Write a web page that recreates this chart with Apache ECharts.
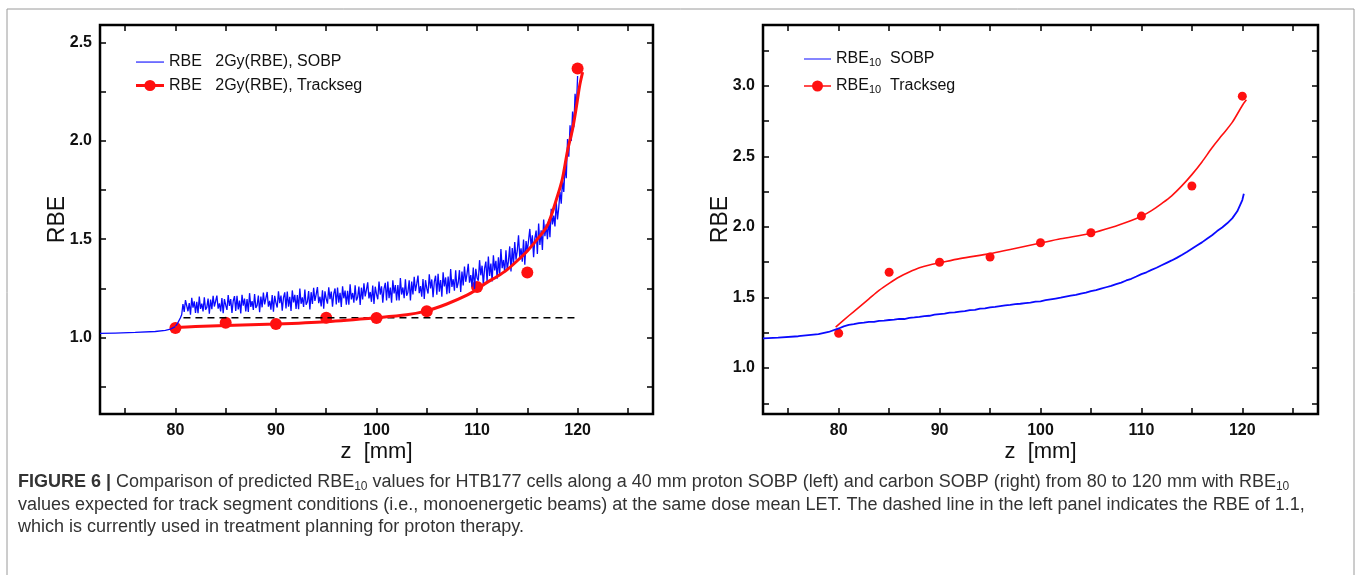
<!DOCTYPE html>
<html>
<head>
<meta charset="utf-8">
<title>RBE SOBP vs Trackseg</title>
<script src="https://cdn.jsdelivr.net/npm/echarts@6/dist/echarts.min.js"></script>
<style>
    html, body { margin: 0; padding: 0; background: #fff; }
    #main { width: 1358px; height: 575px; }
</style>
</head>
<body>
<div id="main"></div>
<script>
// ---- 坐标轴刻度 ----
var xTicks = [75, 80, 85, 90, 95, 100, 105, 110, 115, 120, 125];
var xLabels = [80, 90, 100, 110, 120];
var leftYTicks = [0.75, 1.0, 1.25, 1.5, 1.75, 2.0, 2.25, 2.5];
var leftYLabels = [1.0, 1.5, 2.0, 2.5];
var rightYTicks = [0.75, 1.0, 1.25, 1.5, 1.75, 2.0, 2.25, 2.5, 2.75, 3.0, 3.25];
var rightYLabels = [1.0, 1.5, 2.0, 2.5, 3.0];

// ---- 左图 (proton) ----
// smooth entrance part of the SOBP curve
var leftSobpZ = [72.5, 74, 76, 78, 79, 79.5, 80, 80.25, 80.5];
var leftSobpRbe = [1.02, 1.022, 1.025, 1.03, 1.036, 1.042, 1.055, 1.075, 1.10];
// noisy plateau, read every 0.125 mm from 80.625 mm on (one row = 1 mm)
var leftNoiseStart = 80.625;
var leftNoiseStep = 0.125;
var leftNoiseRbe = [
    1.115, 1.17, 1.13, 1.19,
    1.196, 1.133, 1.174, 1.115, 1.201, 1.151, 1.183, 1.124,
    1.181, 1.123, 1.208, 1.145, 1.172, 1.132, 1.204, 1.141,
    1.153, 1.198, 1.121, 1.193, 1.144, 1.211, 1.157, 1.184,
    1.213, 1.146, 1.173, 1.132, 1.200, 1.123, 1.195, 1.164,
    1.140, 1.215, 1.160, 1.195, 1.125, 1.185, 1.210, 1.135,
    1.212, 1.142, 1.187, 1.122, 1.217, 1.162, 1.197, 1.132,
    1.195, 1.130, 1.225, 1.155, 1.185, 1.140, 1.220, 1.150,
    1.163, 1.213, 1.128, 1.208, 1.153, 1.228, 1.168, 1.198,
    1.231, 1.156, 1.186, 1.141, 1.216, 1.131, 1.211, 1.176,
    1.152, 1.235, 1.174, 1.213, 1.136, 1.202, 1.229, 1.147,
    1.233, 1.156, 1.206, 1.134, 1.239, 1.178, 1.217, 1.145,
    1.215, 1.144, 1.248, 1.171, 1.204, 1.155, 1.243, 1.166,
    1.181, 1.236, 1.142, 1.230, 1.170, 1.252, 1.186, 1.219,
    1.256, 1.174, 1.207, 1.157, 1.240, 1.146, 1.234, 1.196,
    1.172, 1.255, 1.194, 1.233, 1.156, 1.222, 1.249, 1.167,
    1.254, 1.177, 1.227, 1.155, 1.260, 1.199, 1.238, 1.166,
    1.237, 1.166, 1.270, 1.193, 1.226, 1.177, 1.265, 1.188,
    1.204, 1.259, 1.165, 1.253, 1.193, 1.275, 1.209, 1.242,
    1.280, 1.198, 1.231, 1.181, 1.264, 1.170, 1.258, 1.220,
    1.194, 1.284, 1.218, 1.260, 1.176, 1.248, 1.278, 1.188,
    1.284, 1.200, 1.254, 1.176, 1.290, 1.224, 1.266, 1.188,
    1.266, 1.188, 1.302, 1.218, 1.254, 1.200, 1.296, 1.212,
    1.230, 1.290, 1.188, 1.284, 1.218, 1.308, 1.236, 1.272,
    1.315, 1.225, 1.261, 1.207, 1.297, 1.195, 1.291, 1.249,
    1.223, 1.321, 1.249, 1.295, 1.204, 1.282, 1.314, 1.217,
    1.324, 1.233, 1.292, 1.207, 1.331, 1.259, 1.305, 1.220,
    1.309, 1.225, 1.348, 1.257, 1.296, 1.238, 1.342, 1.251,
    1.277, 1.342, 1.231, 1.335, 1.264, 1.361, 1.283, 1.322,
    1.375, 1.278, 1.317, 1.258, 1.356, 1.245, 1.349, 1.304,
    1.288, 1.393, 1.316, 1.365, 1.267, 1.351, 1.386, 1.281,
    1.411, 1.313, 1.376, 1.285, 1.418, 1.341, 1.390, 1.299,
    1.408, 1.317, 1.450, 1.352, 1.394, 1.331, 1.443, 1.345,
    1.388, 1.463, 1.335, 1.455, 1.373, 1.485, 1.395, 1.440,
    1.520, 1.408, 1.453, 1.385, 1.498, 1.370, 1.490, 1.438,
    1.432, 1.552, 1.464, 1.520, 1.408, 1.504, 1.544, 1.424,
    1.580, 1.470, 1.545, 1.445, 1.600, 1.515, 1.575, 1.500,
    1.600, 1.510, 1.655, 1.575, 1.620, 1.565, 1.690, 1.600,
    1.660, 1.740, 1.680, 1.800, 1.740, 1.870, 1.810, 2.010,
    1.920, 2.080, 2.000, 2.150, 2.070, 2.240, 2.160, 2.330
];
// track segment curve
var leftTrackZ = [80, 82, 85, 90, 95, 100, 103, 105, 107, 109, 110, 111, 112, 113, 114, 115, 116, 117, 118, 118.5, 119, 119.5, 119.9, 120.2, 120.5];
var leftTrackRbe = [1.05, 1.055, 1.06, 1.068, 1.08, 1.10, 1.115, 1.135, 1.17, 1.215, 1.245, 1.28, 1.31, 1.345, 1.39, 1.44, 1.5, 1.57, 1.72, 1.81, 1.95, 2.06, 2.18, 2.28, 2.35];
// track segment points
var leftDotZ = [80, 85, 90, 95, 100, 105, 110, 115, 120];
var leftDotRbe = [1.048, 1.075, 1.068, 1.10, 1.099, 1.133, 1.257, 1.33, 2.368];
// RBE = 1.1 reference
var refZ = [80.8, 119.7];
var refRbe = [1.1, 1.1];

// ---- 右图 (carbon) ----
var rightSobpZ = [72.5, 74, 76, 78, 79, 80, 80.5, 81, 81.5, 82, 82.5, 83, 83.5, 84, 84.5, 85, 85.5, 86, 86.5, 87, 87.5,
    88, 88.5, 89, 89.5, 90, 90.5, 91, 91.5, 92, 92.5, 93, 93.5, 94, 94.5, 95, 95.5, 96, 96.5, 97, 97.5, 98, 98.5, 99, 99.5,
    100, 100.5, 101, 101.5, 102, 102.5, 103, 103.5, 104, 104.5, 105, 105.5, 106, 106.5, 107, 107.5, 108, 108.5, 109, 109.5,
    110, 110.5, 111, 111.5, 112, 112.5, 113, 113.5, 114, 114.5, 115, 115.5, 116, 116.5, 117, 117.5, 118, 118.5, 119, 119.5, 120, 120.15];
var rightSobpRbe = [1.21, 1.215, 1.225, 1.24, 1.255, 1.28, 1.295, 1.305, 1.31, 1.318, 1.322, 1.327, 1.326, 1.334, 1.336, 1.34, 1.343,
    1.348, 1.347, 1.355, 1.358, 1.362, 1.368, 1.37, 1.378, 1.382, 1.385, 1.392, 1.394, 1.4, 1.403, 1.41, 1.412, 1.42, 1.422,
    1.43, 1.433, 1.438, 1.443, 1.447, 1.452, 1.455, 1.46, 1.463, 1.47, 1.472, 1.48, 1.486, 1.492, 1.498, 1.505, 1.512, 1.518,
    1.527, 1.534, 1.545, 1.552, 1.562, 1.572, 1.582, 1.594, 1.605, 1.62, 1.632, 1.648, 1.665, 1.678, 1.695, 1.71, 1.728,
    1.745, 1.762, 1.78, 1.8, 1.822, 1.845, 1.868, 1.89, 1.915, 1.94, 1.97, 1.995, 2.025, 2.06, 2.11, 2.19, 2.235];
var rightTrackZ = [79.7, 81, 82, 83, 84, 85, 86, 87, 88, 89, 90, 92, 95, 97, 100, 102, 105, 107, 109, 110, 111, 112, 113, 114, 115, 116, 117, 118, 119, 120, 120.4];
var rightTrackRbe = [1.29, 1.37, 1.43, 1.49, 1.55, 1.60, 1.645, 1.68, 1.71, 1.73, 1.745, 1.775, 1.81, 1.84, 1.885, 1.915, 1.955, 1.995, 2.045, 2.075, 2.115, 2.165, 2.22, 2.29, 2.37, 2.46, 2.56, 2.65, 2.74, 2.86, 2.90];
var rightDotZ = [80, 85, 90, 95, 100, 105, 110, 115, 120];
var rightDotRbe = [1.246, 1.678, 1.749, 1.786, 1.887, 1.958, 2.076, 2.289, 2.926];

// 把两个数组拼成 [x, y]
function zip(xs, ys) {
    var out = [];
    for (var i = 0; i < xs.length; i++) {
        out.push([xs[i], ys[i]]);
    }
    return out;
}

var leftSobpData = zip(leftSobpZ, leftSobpRbe);
for (var i = 0; i < leftNoiseRbe.length; i++) {
    leftSobpData.push([leftNoiseStart + i * leftNoiseStep, leftNoiseRbe[i]]);
}

var BLUE = '#0a0aff';
var RED = '#ff1010';
var FONT = '"Liberation Sans", Arial, sans-serif';

function fmt1(v) {
    return Number(v).toFixed(1);
}

// bottom / top x axis of one panel
function makeXAxis(gridIndex, position) {
    var bottom = position === 'bottom';
    return {
        type: 'value', gridIndex: gridIndex, position: position,
        min: 72.5, max: 127.5,
        name: bottom ? 'z  [mm]' : '', nameLocation: 'middle', nameGap: 27, nameMoveOverlap: false,
        nameTextStyle: { fontFamily: FONT, fontSize: 22, color: '#111' },
        axisLine: { show: false },
        splitLine: { show: false },
        axisTick: { show: true, inside: true, length: 6, customValues: xTicks, lineStyle: { color: '#000', width: 1.5 } },
        axisLabel: { show: bottom, customValues: xLabels, margin: 9, fontFamily: FONT, fontSize: 16, fontWeight: 'bold', color: '#111' }
    };
}

function makeYAxis(gridIndex, position, min, max, ticks, labels) {
    var left = position === 'left';
    return {
        type: 'value', gridIndex: gridIndex, position: position,
        min: min, max: max,
        name: left ? 'RBE' : '', nameLocation: 'middle', nameGap: 31, nameMoveOverlap: false,
        nameTextStyle: { fontFamily: FONT, fontSize: 23, color: '#111' },
        axisLine: { show: false },
        splitLine: { show: false },
        axisTick: { show: true, inside: true, length: 6, customValues: ticks, lineStyle: { color: '#000', width: 1.5 } },
        axisLabel: { show: left, customValues: labels, formatter: fmt1, margin: 8, fontFamily: FONT, fontSize: 16, fontWeight: 'bold', color: '#111' }
    };
}

var captionRich = {
    bold: { fontFamily: FONT, fontSize: 18, fontWeight: 'bold', color: '#222', lineHeight: 22 },
    sub: { fontFamily: FONT, fontSize: 12, color: '#333', lineHeight: 12, verticalAlign: 'bottom' }
};

var chart = echarts.init(document.getElementById('main'));
var option = {
    animation: false,
    backgroundColor: '#fff',
    grid: [
        { left: 100, top: 25, width: 553, height: 389, show: true, borderColor: '#000', borderWidth: 2.5, backgroundColor: 'transparent' },
        { left: 763, top: 25, width: 555, height: 389, show: true, borderColor: '#000', borderWidth: 2.5, backgroundColor: 'transparent' }
    ],
    xAxis: [
        makeXAxis(0, 'bottom'),
        makeXAxis(0, 'top'),
        makeXAxis(1, 'bottom'),
        makeXAxis(1, 'top')
    ],
    yAxis: [
        makeYAxis(0, 'left', 0.61, 2.59, leftYTicks, leftYLabels),
        makeYAxis(0, 'right', 0.61, 2.59, leftYTicks, leftYLabels),
        makeYAxis(1, 'left', 0.674, 3.43, rightYTicks, rightYLabels),
        makeYAxis(1, 'right', 0.674, 3.43, rightYTicks, rightYLabels)
    ],
    legend: [
        {
            left: 131, top: 49, orient: 'vertical', itemWidth: 28, itemHeight: 14, itemGap: 7.5,
            textStyle: { fontFamily: FONT, fontSize: 16, color: '#111' },
            data: [
                { name: 'RBE   2Gy(RBE), SOBP', icon: 'path://M0,0 M28,14 M0,6.5 L28,6.5 L28,7.6 L0,7.6 Z' },
                { name: 'RBE   2Gy(RBE), Trackseg', icon: 'path://M0,0 M28,14 M0,5.6 L28,5.6 L28,8.4 L0,8.4 Z M19.6,7 A5.6,5.6 0 1 1 8.4,7 A5.6,5.6 0 1 1 19.6,7 Z' }
            ]
        },
        {
            left: 799, top: 46, orient: 'vertical', itemWidth: 27, itemHeight: 14, itemGap: 10,
            textStyle: {
                fontFamily: FONT, fontSize: 16, color: '#111',
                rich: {
                    b: { fontFamily: FONT, fontSize: 16, color: '#111', lineHeight: 18 },
                    s: { fontFamily: FONT, fontSize: 11, color: '#111', lineHeight: 10, verticalAlign: 'bottom' }
                }
            },
            formatter: function (name) {
                return '{b|RBE}{s|10}{b|  ' + name.replace('RBE10 ', '') + '}';
            },
            data: [
                { name: 'RBE10 SOBP', icon: 'path://M0,0 M27,14 M0,6.5 L27,6.5 L27,7.5 L0,7.5 Z' },
                { name: 'RBE10 Trackseg', icon: 'path://M0,0 M27,14 M0,6.2 L27,6.2 L27,7.8 L0,7.8 Z M19,7 A5.5,5.5 0 1 1 8,7 A5.5,5.5 0 1 1 19,7 Z' }
            ]
        }
    ],
    series: [
        {
            name: 'RBE   2Gy(RBE), SOBP', type: 'line', xAxisIndex: 0, yAxisIndex: 0,
            data: leftSobpData, showSymbol: false, symbol: 'none',
            lineStyle: { color: BLUE, width: 1.3 }, itemStyle: { color: BLUE }
        },
        {
            name: 'ref11', type: 'line', xAxisIndex: 0, yAxisIndex: 0,
            data: zip(refZ, refRbe), showSymbol: false, symbol: 'none',
            lineStyle: { color: '#000', width: 1.5, type: [7, 5] }
        },
        {
            name: 'RBE   2Gy(RBE), Trackseg', type: 'line', xAxisIndex: 0, yAxisIndex: 0,
            data: zip(leftTrackZ, leftTrackRbe), showSymbol: false, symbol: 'none', smooth: 0.3,
            lineStyle: { color: RED, width: 3 }, itemStyle: { color: RED }
        },
        {
            name: 'leftDots', type: 'scatter', xAxisIndex: 0, yAxisIndex: 0,
            data: zip(leftDotZ, leftDotRbe), symbol: 'circle', symbolSize: 12,
            itemStyle: { color: RED, opacity: 1 }
        },
        {
            name: 'RBE10 SOBP', type: 'line', xAxisIndex: 2, yAxisIndex: 2,
            data: zip(rightSobpZ, rightSobpRbe), showSymbol: false, symbol: 'none',
            lineStyle: { color: BLUE, width: 1.8 }, itemStyle: { color: BLUE }
        },
        {
            name: 'RBE10 Trackseg', type: 'line', xAxisIndex: 2, yAxisIndex: 2,
            data: zip(rightTrackZ, rightTrackRbe), showSymbol: false, symbol: 'none', smooth: 0.3,
            lineStyle: { color: RED, width: 1.6 }, itemStyle: { color: RED }
        },
        {
            name: 'rightDots', type: 'scatter', xAxisIndex: 2, yAxisIndex: 2,
            data: zip(rightDotZ, rightDotRbe), symbol: 'circle', symbolSize: 9,
            itemStyle: { color: RED, opacity: 1 }
        }
    ],
    graphic: [
        // 外框
        { type: 'rect', shape: { x: 7, y: 9, width: 1347, height: 580 }, style: { fill: 'none', stroke: '#9a9a9a', lineWidth: 1 }, silent: true },
        {
            type: 'text', left: 18, top: 471, silent: true,
            style: {
                text: '{bold|FIGURE 6 |} Comparison of predicted RBE{sub|10} values for HTB177 cells along a 40 mm proton SOBP (left) and carbon SOBP (right) from 80 to 120 mm with RBE{sub|10}',
                fontFamily: FONT, fontSize: 18, fill: '#333', lineHeight: 22, rich: captionRich
            }
        },
        {
            type: 'text', left: 18, top: 494, silent: true,
            style: {
                text: 'values expected for track segment conditions (i.e., monoenergetic beams) at the same dose mean LET. The dashed line in the left panel indicates the RBE of 1.1,',
                fontFamily: FONT, fontSize: 18, fill: '#333', lineHeight: 22
            }
        },
        {
            type: 'text', left: 18, top: 516, silent: true,
            style: {
                text: 'which is currently used in treatment planning for proton therapy.',
                fontFamily: FONT, fontSize: 18, fill: '#333', lineHeight: 22
            }
        }
    ]
};
chart.setOption(option);
</script>
</body>
</html>
